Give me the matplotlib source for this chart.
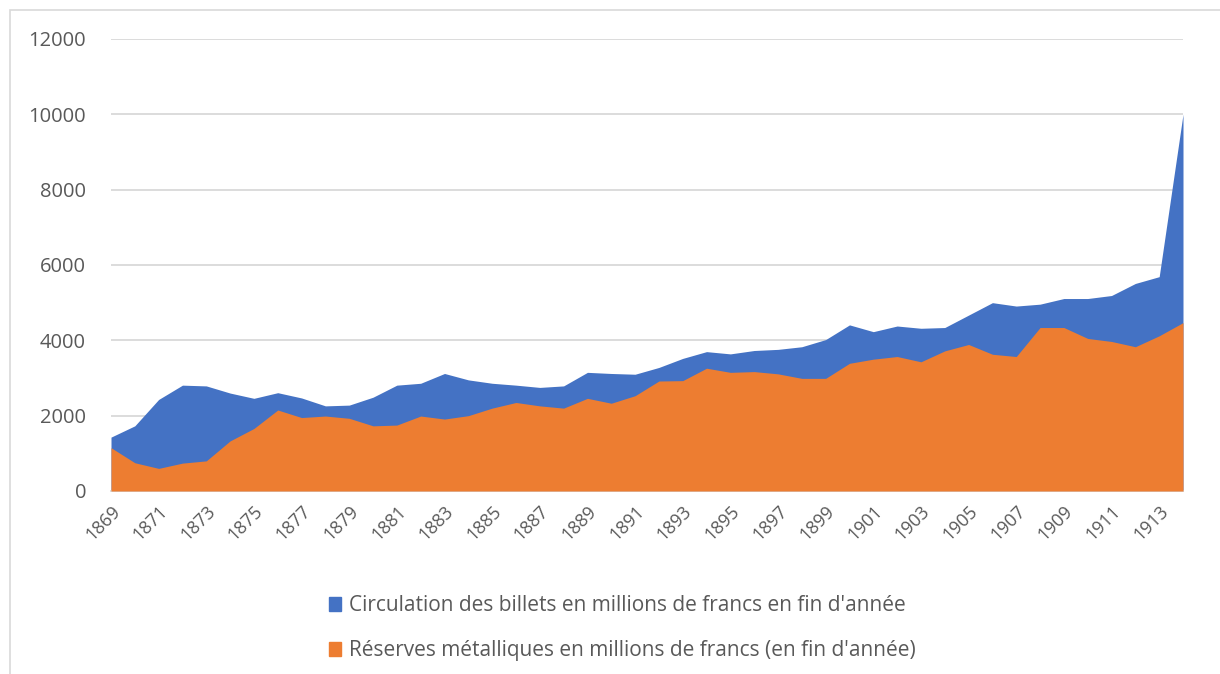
import matplotlib
matplotlib.use('Agg')
import matplotlib.pyplot as plt
from matplotlib.patches import Patch, Rectangle

# Years and values (millions of francs, end of year)
years = list(range(1869, 1915))
circulation = [1430, 1730, 2430, 2810, 2790, 2600, 2460, 2610, 2470, 2260,
               2280, 2490, 2810, 2860, 3120, 2950, 2860, 2810, 2750, 2790,
               3150, 3120, 3100, 3280, 3520, 3700, 3640, 3730, 3760, 3830,
               4020, 4410, 4230, 4380, 4320, 4340, 4670, 5000, 4910, 4960,
               5110, 5110, 5190, 5510, 5690, 10000]
reserves = [1150, 750, 600, 740, 800, 1330, 1660, 2150, 1950, 1990,
            1930, 1730, 1750, 1990, 1910, 2000, 2200, 2350, 2260, 2200,
            2460, 2330, 2530, 2920, 2930, 3260, 3150, 3170, 3110, 2990,
            2990, 3390, 3500, 3570, 3430, 3720, 3890, 3630, 3570, 4340,
            4340, 4050, 3970, 3830, 4120, 4470]
labels = ["Circulation des billets en millions de francs en fin d'année",
          "Réserves métalliques en millions de francs (en fin d'année)"]

blue = '#4472C4'
orange = '#ED7D31'
grid = '#D9D9D9'
text_col = '#595959'

plt.rcParams['font.family'] = ['Open Sans', 'DejaVu Sans']

fig = plt.figure(figsize=(12.2, 6.74), dpi=100)
ax = fig.add_axes([111 / 1220, 1 - 491 / 674, 1072 / 1220, 452 / 674])

# Non-stacked areas: circulation behind, reserves in front
ax.fill_between(years, circulation, 0, color=blue, linewidth=0, zorder=2)
ax.fill_between(years, reserves, 0, color=orange, linewidth=0, zorder=3)

ax.set_xlim(1869, 1914)
ax.set_ylim(0, 12000)
ax.set_yticks(range(0, 12001, 2000))
ax.yaxis.grid(True, color=grid, linewidth=1.3, zorder=1)
ax.set_axisbelow(True)
for s in ['top', 'right', 'left']:
    ax.spines[s].set_visible(False)
ax.spines['bottom'].set_color(grid)
ax.spines['bottom'].set_linewidth(1.3)

ax.set_xticks(years[::2])
ax.set_xticklabels([str(y) for y in years[::2]], rotation=45, ha='right',
                   rotation_mode='anchor')
ax.tick_params(axis='both', length=0, colors=text_col)
ax.tick_params(axis='y', pad=18, labelsize=14.5)
ax.tick_params(axis='x', pad=8, labelsize=13)

handles = [Patch(facecolor=blue, edgecolor=blue),
           Patch(facecolor=orange, edgecolor=orange)]
leg = fig.legend(handles, labels, loc='upper center',
                 bbox_to_anchor=(0.51, 1 - 585 / 674),
                 bbox_transform=fig.transFigure, frameon=False, fontsize=15,
                 labelcolor=text_col, handlelength=0.6, handleheight=0.6,
                 handletextpad=0.35, labelspacing=1.15, borderpad=0)

# Chart border
fig.patches.append(Rectangle((10 / 1220, -0.01), 1.0, 1 - 10 / 674 + 0.01,
                             transform=fig.transFigure, fill=False,
                             edgecolor=grid, linewidth=1.2))

fig.savefig('out.png', dpi=100)
